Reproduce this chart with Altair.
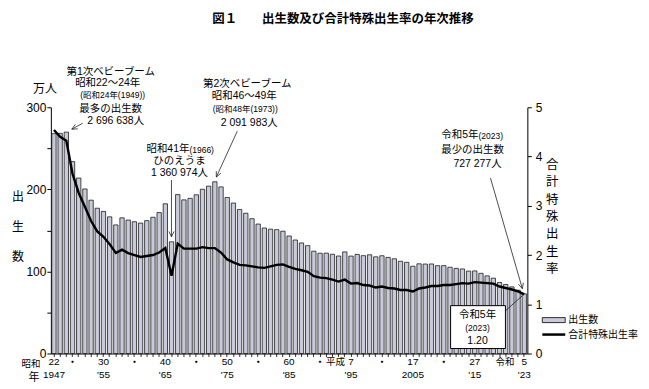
import math
import altair as alt
import pandas as pd

# ---------------- data ----------------
years = list(range(1947, 2024))
# births, in units of 10,000 persons (万人)
births = [267.9, 268.2, 269.7, 233.8, 213.8, 200.5, 186.8, 177.0, 173.1, 166.5,
          156.7, 165.3, 162.6, 160.6, 158.9, 161.9, 166.0, 171.7, 182.4, 136.1,
          193.6, 187.2, 189.0, 193.4, 200.1, 203.9, 209.2, 203.0, 190.1, 183.3,
          175.5, 170.9, 164.3, 157.7, 152.9, 151.5, 150.9, 149.0, 143.2, 138.3,
          134.7, 131.4, 124.7, 122.2, 122.3, 120.9, 118.8, 123.8, 118.7, 120.7,
          119.2, 120.3, 117.8, 119.1, 117.1, 115.4, 112.4, 111.1, 106.3, 109.3,
          109.0, 109.1, 107.0, 107.1, 105.1, 103.7, 103.0, 100.4, 100.6, 97.7,
          94.6, 91.8, 86.5, 84.1, 81.2, 77.1, 72.7]
# total fertility rate
tfr = [4.54, 4.40, 4.32, 3.65, 3.26, 2.98, 2.69, 2.48, 2.37, 2.22,
       2.04, 2.11, 2.04, 2.00, 1.96, 1.98, 2.00, 2.05, 2.14, 1.58,
       2.23, 2.13, 2.13, 2.13, 2.16, 2.14, 2.14, 2.05, 1.91, 1.85,
       1.80, 1.79, 1.77, 1.75, 1.74, 1.77, 1.80, 1.81, 1.76, 1.72,
       1.69, 1.66, 1.57, 1.54, 1.53, 1.50, 1.46, 1.50, 1.42, 1.43,
       1.39, 1.38, 1.34, 1.36, 1.33, 1.32, 1.29, 1.29, 1.26, 1.32,
       1.34, 1.37, 1.37, 1.39, 1.39, 1.41, 1.43, 1.42, 1.45, 1.44,
       1.43, 1.42, 1.36, 1.33, 1.30, 1.26, 1.20]

tick_years = [1947, 1955, 1965, 1975, 1985, 1995, 2005, 2015, 2023]
era_labels = ["22", "30", "40", "50", "60", "7", "17", "27", "5"]
west_labels = ["1947", "'55", "'65", "'75", "'85", "'95", "2005", "'15", "'23"]
dot_years = [1950, 1960, 1970, 1980, 1990, 2000, 2010]

left_ticks = [0, 50, 100, 150, 200, 250, 300]
right_ticks = [0, 1, 2, 3, 4, 5]

# ---------------- layout ----------------
OX, OY = 51, 107          # plot-area origin on the page
W, H = 478, 247
FONT = "Liberation Sans, Noto Sans CJK JP"
BARFILL = "#c9c9d9"

df = pd.DataFrame({"year": years, "births": births, "tfr": tfr})
one = pd.DataFrame({"a": [0]})

xenc = alt.X("year:O",
             scale=alt.Scale(domain=years, paddingInner=0.3, paddingOuter=0.15),
             axis=alt.Axis(title=None, labels=False, tickSize=3, tickColor="black",
                           tickWidth=0.8, domainColor="black", domainWidth=1, grid=False))

bars = alt.Chart(df).mark_bar(fill=BARFILL, stroke="black", strokeWidth=0.7).encode(
    x=xenc,
    y=alt.Y("births:Q",
            scale=alt.Scale(domain=[0, 300], nice=False, zero=True),
            axis=alt.Axis(title=None, values=left_ticks, grid=False,
                          labelExpr="datum.value % 100 == 0 ? datum.label : ''",
                          tickSize=4, tickColor="black", domainColor="black",
                          labelFontSize=12, labelFont=FONT, labelColor="black",
                          labelPadding=1)),
)

line = alt.Chart(df).mark_line(color="black", strokeWidth=2.4).encode(
    x=xenc,
    y=alt.Y("tfr:Q",
            scale=alt.Scale(domain=[0, 5], nice=False, zero=True),
            axis=alt.Axis(title=None, orient="right", values=right_ticks, format="d",
                          grid=False, tickSize=4, tickColor="black", domainColor="black",
                          labelFontSize=12, labelFont=FONT, labelColor="black",
                          labelPadding=4)),
)


def T(x, y, text, size=10.5, align="center", weight="normal"):
    return alt.Chart(pd.DataFrame({"t": [text]})).mark_text(
        font=FONT, fontSize=size, align=align, baseline="middle",
        fontWeight=weight, color="black").encode(
        x=alt.value(x - OX), y=alt.value(y - OY), text="t:N")


def seg(x1, y1, x2, y2, w=0.8, color="#222"):
    return alt.Chart(one).mark_rule(color=color, strokeWidth=w).encode(
        x=alt.value(x1 - OX), x2=alt.value(x2 - OX),
        y=alt.value(y1 - OY), y2=alt.value(y2 - OY))


def arrow(x1, y1, x2, y2, head=6, spread=25):
    out = [seg(x1, y1, x2, y2)]
    ang = math.atan2(y2 - y1, x2 - x1)
    for s in (1, -1):
        a = ang + math.pi + s * math.radians(spread)
        out.append(seg(x2, y2, x2 + head * math.cos(a), y2 + head * math.sin(a)))
    return out


def rect(x1, y1, x2, y2, fill, sw=1):
    return alt.Chart(one).mark_rect(fill=fill, stroke="black", strokeWidth=sw).encode(
        x=alt.value(x1 - OX), x2=alt.value(x2 - OX),
        y=alt.value(y1 - OY), y2=alt.value(y2 - OY))


# x axis labels (two lines) on the year scale
lab_df = pd.DataFrame({"year": tick_years, "era": era_labels, "west": west_labels})
era_text = alt.Chart(lab_df).mark_text(font=FONT, fontSize=10, baseline="middle",
                                       color="black").encode(
    x=xenc, y=alt.value(363 - OY), text="era:N")
west_text = alt.Chart(lab_df).mark_text(font=FONT, fontSize=10, baseline="middle",
                                        color="black").encode(
    x=xenc, y=alt.value(376 - OY), text="west:N")
dot_text = alt.Chart(pd.DataFrame({"year": dot_years, "d": ["・"] * len(dot_years)})).mark_text(
    font=FONT, fontSize=9, fontWeight="bold", baseline="middle", color="black").encode(
    x=xenc, y=alt.value(363 - OY), text="d:N")

layers = [bars, line, era_text, west_text, dot_text]

# title
layers.append(T(344, 18, "図１　　出生数及び合計特殊出生率の年次推移", size=12.5, weight="bold"))

# axis titles / units
layers.append(T(45, 89, "万人", size=12))
for i, ch in enumerate("出生数"):
    layers.append(T(18, 197 + 30 * i, ch, size=12))
for i, ch in enumerate("合計特殊出生率"):
    layers.append(T(554, 165 + 17.4 * i, ch, size=12.5))
layers.append(T(31, 365, "昭和", size=9.5))
layers.append(T(34, 379, "年", size=11))
layers.append(T(346, 363, "平成", size=9.5, align="right"))
layers.append(T(516, 363, "令和", size=9.5, align="right"))

# annotation 1: first baby boom
layers += [T(111, 72, "第1次ベビーブーム"),
           T(108, 83, "昭和22～24年"),
           T(113, 95, "(昭和24年(1949))", size=8.5),
           T(111, 109, "最多の出生数"),
           T(116, 121, "2 696 638人")]
layers += arrow(83, 123, 72, 129)

# annotation 2: second baby boom
layers += [T(248, 84, "第2次ベビーブーム"),
           T(245, 96, "昭和46～49年"),
           T(246, 109, "(昭和48年(1973))", size=8.5),
           T(250, 123, "2 091 983人")]
layers += arrow(238, 131, 217, 177)

# annotation 3: hinoeuma
layers += [T(190, 149, "昭和41年", align="right"),
           T(190, 149.5, "(1966)", size=8.5, align="left"),
           T(180, 161, "ひのえうま"),
           T(180, 173, "1 360 974人")]
layers += arrow(172, 180, 172, 237)

# annotation 4: fewest births
layers += [T(480, 135, "令和5年", align="right"),
           T(480, 135.5, "(2023)", size=8.5, align="left"),
           T(474, 150, "最少の出生数"),
           T(479, 164, "727 277人")]
layers += arrow(492, 178, 524, 289)

# boxed TFR call-out
layers.append(seg(505, 313, 524, 296))
layers.append(rect(452, 306, 507, 349, "white"))
layers += [T(479, 315, "令和5年"),
           T(479, 328, "(2023)", size=8.5),
           T(479, 341, "1.20")]

# legend
layers.append(rect(544, 318, 567, 323, BARFILL, sw=0.8))
layers.append(T(570, 320, "出生数", size=10, align="left"))
layers.append(seg(544, 335, 567, 335, w=2.5, color="black"))
layers.append(T(570, 335, "合計特殊出生率", size=10, align="left"))

chart = alt.layer(*layers).resolve_scale(y="independent").properties(
    width=W, height=H,
    autosize=alt.AutoSizeParams(type="none"),
    padding={"left": OX - 8, "top": OY - 8, "right": 114, "bottom": 31},
).configure_view(stroke=None)

chart.save("out.html", embed_options={"renderer": "svg", "actions": False})
